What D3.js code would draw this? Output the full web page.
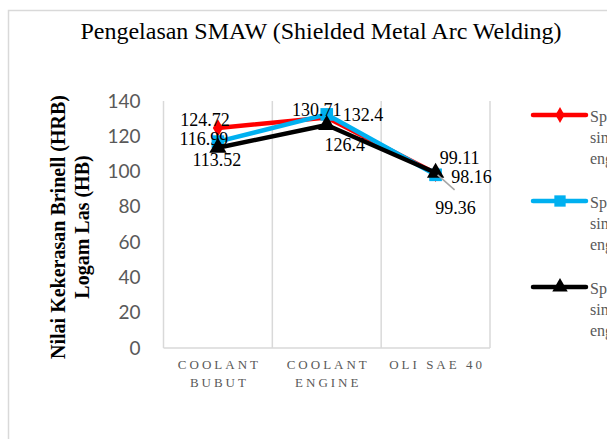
<!DOCTYPE html>
<html lang="id">
<head>
<meta charset="UTF-8">
<title>Pengelasan SMAW</title>
<script src="https://d3js.org/d3.v7.min.js"></script>
<style>
    body { margin: 0; background: #fff; }
    svg { display: block; }
</style>
</head>
<body>
<svg id="chart" width="607" height="439"></svg>
<script>
    // data
    const categories = [["COOLANT", "BUBUT"], ["COOLANT", "ENGINE"], ["OLI SAE 40"]];
    const seriesNames = [
        ["Spesimen 1", "simulasi", "engine"],
        ["Spesimen 2", "simulasi", "engine"],
        ["Spesimen 3", "simulasi", "engine"]
    ];
    const redValues = [124.72, 130.71, 99.11];
    const blueValues = [116.99, 132.4, 98.16];
    const blackValues = [113.52, 126.4, 99.36];
    const yTicks = [0, 20, 40, 60, 80, 100, 120, 140];

    // label placement per series / category (dx, dy from the point, anchor)
    const labelPos = [
        [[-13, -2, "middle"], [-10, -1.5, "middle"], [24, -9, "middle"]],
        [[-14, 3, "middle"], [16, 6.5, "start"], [36, 8, "middle"]],
        [[-1, 18.5, "middle"], [18, 26, "middle"], [20, 41, "middle"]]
    ];

    const svg = d3.select("#chart");
    const margin = { top: 101, bottom: 348, left: 163.5, right: 490 };
    const serif = "'Liberation Serif', 'Times New Roman', serif";
    const grey = "#595959";
    const gridCol = "#d9d9d9";

    // outer border of the chart area
    svg.append("rect")
        .attr("x", 8.5).attr("y", 10.5)
        .attr("width", 640).attr("height", 460)
        .attr("fill", "none").attr("stroke", gridCol).attr("stroke-width", 1.5);

    svg.append("text")
        .attr("x", 321).attr("y", 39)
        .attr("text-anchor", "middle")
        .attr("font-family", serif).attr("font-size", 24)
        .attr("fill", "#000")
        .text("Pengelasan SMAW (Shielded Metal Arc Welding)");

    const x = d3.scaleBand()
        .domain(d3.range(categories.length))
        .range([margin.left, margin.right])
        .paddingInner(0).paddingOuter(0);

    const y = d3.scaleLinear()
        .domain([0, 140])
        .range([margin.bottom, margin.top]);

    // category separators
    const bounds = d3.range(categories.length + 1).map(i =>
        i < categories.length ? x(i) : x(i - 1) + x.bandwidth());
    svg.append("g").selectAll("line")
        .data(bounds)
        .join("line")
        .attr("x1", d => d).attr("x2", d => d)
        .attr("y1", y(140)).attr("y2", y(0))
        .attr("stroke", gridCol).attr("stroke-width", 1.5);

    svg.append("line")
        .attr("x1", margin.left).attr("x2", margin.right)
        .attr("y1", y(0)).attr("y2", y(0))
        .attr("stroke", gridCol).attr("stroke-width", 1.5);

    // y axis
    const yAxis = svg.append("g")
        .attr("transform", "translate(" + (margin.left - 23) + ",0)")
        .call(d3.axisLeft(y).tickValues(yTicks).tickSize(0).tickPadding(0));
    yAxis.select(".domain").remove();
    yAxis.selectAll("text")
        .attr("font-family", "Lato, 'Open Sans', sans-serif")
        .attr("font-size", 19)
        .attr("fill", grey);

    // category labels
    const xLab = svg.append("g");
    categories.forEach((lines, i) => {
        lines.forEach((t, j) => {
            xLab.append("text")
                .attr("x", x(i) + x.bandwidth() / 2 + 1.5)
                .attr("y", 369 + j * 18)
                .attr("text-anchor", "middle")
                .attr("font-family", serif)
                .attr("font-size", 13)
                .attr("letter-spacing", "3px")
                .attr("fill", grey)
                .text(t);
        });
    });

    // y title
    const yTitle = svg.append("text")
        .attr("transform", "translate(0,227) rotate(-90)")
        .attr("text-anchor", "middle")
        .attr("font-family", serif).attr("font-size", 20)
        .attr("font-weight", "bold").attr("fill", "#000");
    yTitle.append("tspan").attr("x", 0).attr("y", 65).text("Nilai Kekerasan Brinell (HRB)");
    yTitle.append("tspan").attr("x", 0).attr("y", 89).text("Logam Las (HB)");

    const series = [
        { values: redValues, color: "#ff0000", shape: d3.symbolDiamond, size: 90 },
        { values: blueValues, color: "#00b0f0", shape: d3.symbolSquare, size: 160 },
        { values: blackValues, color: "#000000", shape: d3.symbolTriangle, size: 130 }
    ];

    const line = d3.line()
        .x((d, i) => x(i) + x.bandwidth() / 2)
        .y(d => y(d));

    series.forEach(s => {
        const g = svg.append("g");
        g.append("path")
            .datum(s.values)
            .attr("d", line)
            .attr("fill", "none")
            .attr("stroke", s.color)
            .attr("stroke-width", 4.5)
            .attr("stroke-linejoin", "round");
        g.selectAll("path.mk")
            .data(s.values)
            .join("path")
            .attr("class", "mk")
            .attr("d", d3.symbol().type(s.shape).size(s.size))
            .attr("transform", (d, i) => "translate(" + (x(i) + x.bandwidth() / 2) + "," + y(d) + ")")
            .attr("fill", s.color);
    });

    // leader line for the 98.16 label
    svg.append("line")
        .attr("x1", x(2) + x.bandwidth() / 2 + 2).attr("y1", y(blueValues[2]))
        .attr("x2", x(2) + x.bandwidth() / 2 + 19).attr("y2", y(blueValues[2]) + 15)
        .attr("stroke", "#a6a6a6").attr("stroke-width", 1.5);

    // data labels
    series.forEach((s, si) => {
        svg.append("g").selectAll("text")
            .data(s.values)
            .join("text")
            .attr("x", (d, i) => x(i) + x.bandwidth() / 2 + labelPos[si][i][0])
            .attr("y", (d, i) => y(d) + labelPos[si][i][1])
            .attr("text-anchor", (d, i) => labelPos[si][i][2])
            .attr("font-family", serif)
            .attr("font-size", 18)
            .attr("fill", "#000")
            .text(d => d);
    });

    // legend
    const legend = svg.append("g");
    series.forEach((s, i) => {
        const ly = 115 + i * 86;
        legend.append("line")
            .attr("x1", 533).attr("x2", 586)
            .attr("y1", ly).attr("y2", ly)
            .attr("stroke", s.color).attr("stroke-width", 4.5)
            .attr("stroke-linecap", "round");
        legend.append("path")
            .attr("d", d3.symbol().type(s.shape).size(s.size * 0.8))
            .attr("transform", "translate(560," + ly + ")")
            .attr("fill", s.color);
        seriesNames[i].forEach((t, j) => {
            legend.append("text")
                .attr("x", 590)
                .attr("y", ly + 7 + j * 21)
                .attr("font-family", serif)
                .attr("font-size", 16)
                .attr("fill", grey)
                .text(t);
        });
    });
</script>
</body>
</html>
